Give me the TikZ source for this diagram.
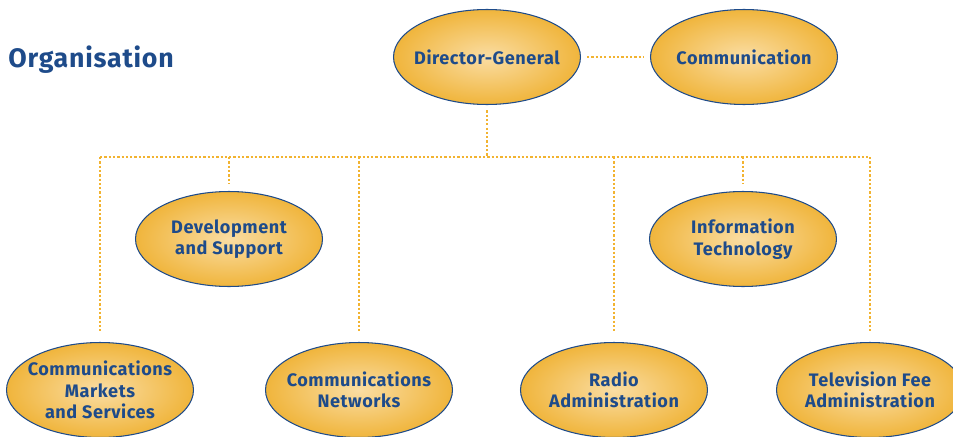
\documentclass[tikz,border=0pt]{standalone}
\usepackage{fontspec}
\setmainfont{Fira Sans}[LetterSpace=3]
\usetikzlibrary{shapes.geometric}
\definecolor{orgblue}{HTML}{1E4B8A}
\definecolor{orgfill}{HTML}{F0B53C}
\definecolor{orglight}{HTML}{FADDA3}
\definecolor{orgdots}{HTML}{F2B330}

\tikzset{
  unit/.style={ellipse, draw=orgblue, line width=0.6pt, inner color=orglight, outer color=orgfill,
    minimum width=3.74cm, minimum height=1.9cm, inner xsep=-0.8cm, inner ysep=-0.6cm, align=center, text=orgblue,
    font=\bfseries\fontsize{10.3}{12.2}\selectfont},
  link/.style={orgdots, line width=1.6pt, dash pattern=on 1.3pt off 1.15pt}
}

\begin{document}
\begin{tikzpicture}[x=0.02cm,y=-0.02cm]
        \useasboundingbox (0,0) rectangle (953,436);
        \node[anchor=west, inner sep=0pt, text=orgblue, font=\bfseries\fontsize{15.2}{17}\selectfont] (title) at (8,60) {Organisation};
        % top row
        \node[unit] (dg) at (487,57) {Director-General};
        \node[unit] (comm) at (744,57) {Communication};
        % middle row
        \node[unit] (dev) at (229,239) {Development\\and Support};
        \node[unit] (it) at (743,239) {Information\\Technology};
        % bottom row
        \node[unit] (cms) at (100,390) {Communications\\Markets\\and Services};
        \node[unit] (cn) at (359,390) {Communications\\Networks};
        \node[unit] (ra) at (614,390) {Radio\\Administration};
        \node[unit] (tvf) at (870,390) {Television Fee\\Administration};
        \coordinate (busL) at (100,157);
        \coordinate (busR) at (870,157);
        \draw[link, shorten <=3.4pt, shorten >=3.4pt] (dg) -- (comm);
        \draw[link, shorten <=3pt] (dg) -- (dg |- busL);
        \draw[link] (busL) -- (busR);
        \draw[link, shorten >=4pt] (dev |- busL) -- (dev);
        \draw[link, shorten >=4pt] (it |- busL) -- (it);
        \draw[link, shorten >=5.7pt] (cms |- busL) -- (cms);
        \draw[link, shorten >=5.7pt] (cn |- busL) -- (cn);
        \draw[link, shorten >=5.7pt] (ra |- busL) -- (ra);
        \draw[link, shorten >=5.7pt] (tvf |- busL) -- (tvf);
\end{tikzpicture}
\end{document}
